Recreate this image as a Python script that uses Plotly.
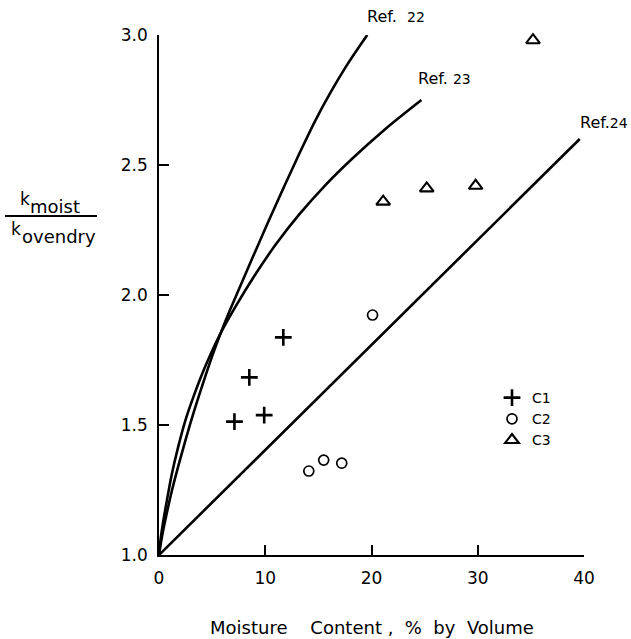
import plotly.graph_objects as go

# ---- data ----
ref22_x = [0, 0.3, 0.7, 1.2, 1.8, 2.5, 3.3, 4.2, 5.2, 6.3, 7.5, 8.8, 10.2, 11.7, 13.2, 14.7, 16.2, 17.7, 19.6]
ref22_y = [1.0, 1.075, 1.155, 1.245, 1.34, 1.443, 1.553, 1.668, 1.787, 1.905, 2.02, 2.143, 2.274, 2.41, 2.543, 2.67, 2.783, 2.885, 3.0]

ref23_x = [0, 0.15, 0.4, 0.7, 1.2, 1.8, 2.5, 3.3, 4.3, 5.7, 7.2, 9.0, 11.0, 13.2, 15.6, 18.2, 21.2, 24.7]
ref23_y = [1.0, 1.06, 1.13, 1.2, 1.31, 1.415, 1.52, 1.615, 1.72, 1.845, 1.955, 2.075, 2.195, 2.31, 2.42, 2.525, 2.635, 2.75]

ref24_x = [0, 39.6]
ref24_y = [1.0, 2.6]

c1_x = [7.1, 9.9, 8.5, 11.7]
c1_y = [1.513, 1.538, 1.683, 1.837]

c2_x = [14.1, 15.5, 17.2, 20.1]
c2_y = [1.323, 1.365, 1.353, 1.923]

c3_x = [21.1, 25.2, 29.8, 35.2]
c3_y = [2.359, 2.41, 2.42, 2.98]

x_ticks = [0, 10, 20, 30, 40]
y_ticks = [1.0, 1.5, 2.0, 2.5, 3.0]
y_ticktext = ["1.0", "1.5", "2.0", "2.5", "3.0"]

# ---- layout geometry ----
W, H = 631, 639
L, R, T, B = 159, 47, 35, 84
PW, PH = W - L - R, H - T - B
FONT = "DejaVu Sans"


def px(xp):
    return (xp - L) / PW


def py(yp):
    return (H - B - yp) / PH


fig = go.Figure()
line_style = dict(color="black", width=2.6, shape="spline", smoothing=1.0)
fig.add_trace(go.Scatter(x=ref22_x, y=ref22_y, mode="lines", line=line_style,
                         showlegend=False, hoverinfo="skip"))
fig.add_trace(go.Scatter(x=ref23_x, y=ref23_y, mode="lines", line=line_style,
                         showlegend=False, hoverinfo="skip"))
fig.add_trace(go.Scatter(x=ref24_x, y=ref24_y, mode="lines",
                         line=dict(color="black", width=2.6),
                         showlegend=False, hoverinfo="skip"))

fig.add_trace(go.Scatter(x=c1_x, y=c1_y, mode="markers", name="C1",
                         marker=dict(symbol="cross-thin-open", size=12, color="black",
                                     line=dict(color="black", width=2.6)),
                         cliponaxis=False))
fig.add_trace(go.Scatter(x=c2_x, y=c2_y, mode="markers", name="C2",
                         marker=dict(symbol="circle-open", size=10, color="black",
                                     line=dict(color="black", width=1.7)),
                         cliponaxis=False))
fig.add_trace(go.Scatter(x=c3_x, y=c3_y, mode="markers", name="C3",
                         marker=dict(symbol="triangle-up-open", size=12, color="black",
                                     line=dict(color="black", width=2.1)),
                         cliponaxis=False))

annotations = []
# curve labels anchored at curve end points
for xs, ys, num, xs_shift, ys_shift, gap in [
    (ref22_x, ref22_y, "22", -2, 7, "&nbsp;&nbsp;"),
    (ref23_x, ref23_y, "23", -5, 10, "&nbsp;"),
    (ref24_x, ref24_y, "24", -2, 5, ""),
]:
    annotations.append(dict(
        x=xs[-1], y=ys[-1], xref="x", yref="y",
        text="Ref." + gap + "<span style='font-size:14px'>" + num + "</span>",
        showarrow=False, xanchor="left", yanchor="bottom",
        xshift=xs_shift, yshift=ys_shift,
        font=dict(family=FONT, size=16, color="black")))

# y-axis fraction label
annotations += [
    dict(x=px(25), y=py(199), xref="paper", yref="paper", text="k", showarrow=False,
         xanchor="center", yanchor="middle", font=dict(family=FONT, size=17, color="black")),
    dict(x=px(28), y=py(206), xref="paper", yref="paper", text="moist", showarrow=False,
         xanchor="left", yanchor="middle", font=dict(family=FONT, size=18, color="black")),
    dict(x=px(16), y=py(229), xref="paper", yref="paper", text="k", showarrow=False,
         xanchor="center", yanchor="middle", font=dict(family=FONT, size=17, color="black")),
    dict(x=px(20), y=py(237), xref="paper", yref="paper", text="ovendry", showarrow=False,
         xanchor="left", yanchor="middle", font=dict(family=FONT, size=18, color="black")),
    dict(x=0.5, y=py(627), xref="paper", yref="paper",
         text="Moisture&nbsp;&nbsp;&nbsp;&nbsp;Content&nbsp;,&nbsp;&nbsp;%&nbsp;&nbsp;by&nbsp;&nbsp;Volume",
         showarrow=False, xanchor="center", yanchor="middle",
         font=dict(family=FONT, size=18, color="black")),
]

shapes = [dict(type="line", xref="paper", yref="paper",
               x0=px(5), x1=px(97), y0=py(216), y1=py(216),
               line=dict(color="black", width=2))]

fig.update_layout(
    width=W, height=H,
    margin=dict(l=L, r=R, t=T, b=B, pad=0),
    paper_bgcolor="white", plot_bgcolor="white",
    font=dict(family=FONT, size=17, color="black"),
    annotations=annotations, shapes=shapes,
    showlegend=True,
    legend=dict(x=px(492), y=py(382), xanchor="left", yanchor="top",
                font=dict(family=FONT, size=14, color="black"),
                bgcolor="rgba(0,0,0,0)", tracegroupgap=0, itemwidth=30),
    xaxis=dict(range=[0, 40], tickvals=x_ticks, showgrid=False, zeroline=False,
               showline=True, linecolor="black", linewidth=1.6,
               ticks="inside", ticklen=10, tickwidth=1.5, tickcolor="black",
               ticklabelstandoff=7,
               tickfont=dict(family=FONT, size=17, color="black")),
    yaxis=dict(range=[1, 3], tickvals=y_ticks, ticktext=y_ticktext,
               showgrid=False, zeroline=False,
               showline=True, linecolor="black", linewidth=1.6,
               ticks="inside", ticklen=10, tickwidth=1.5, tickcolor="black",
               ticklabelstandoff=6,
               tickfont=dict(family=FONT, size=17, color="black")),
)

fig.write_html("out.html")
